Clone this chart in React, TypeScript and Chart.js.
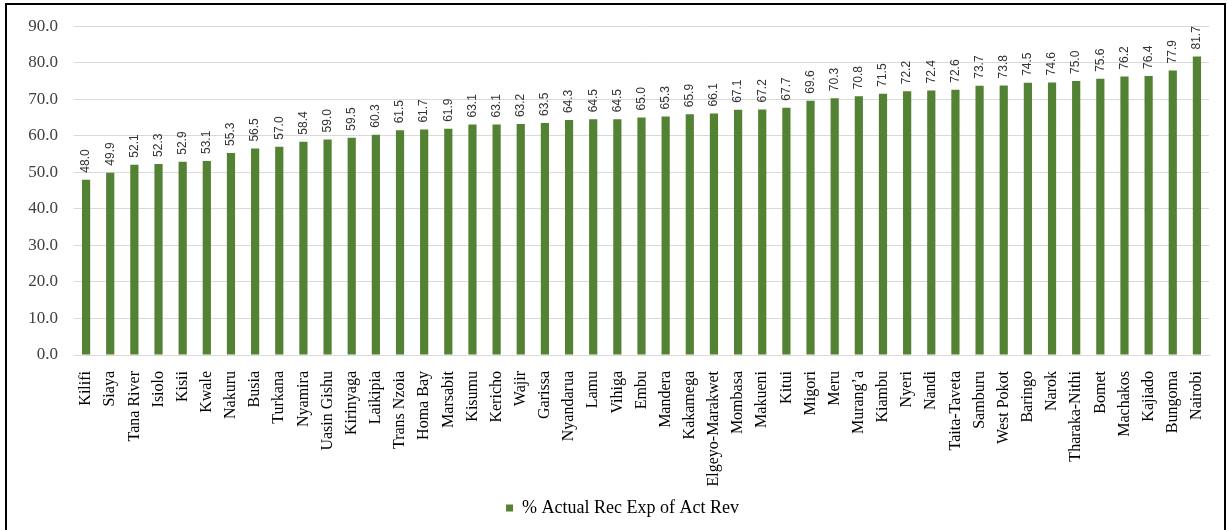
import React, { useEffect, useRef } from "react";
import { Chart, registerables } from "chart.js";

Chart.register(...registerables);

const counties: string[] = [
  "Kilifi", "Siaya", "Tana River", "Isiolo", "Kisii", "Kwale", "Nakuru", "Busia",
  "Turkana", "Nyamira", "Uasin Gishu", "Kirinyaga", "Laikipia", "Trans Nzoia",
  "Homa Bay", "Marsabit", "Kisumu", "Kericho", "Wajir", "Garissa", "Nyandarua",
  "Lamu", "Vihiga", "Embu", "Mandera", "Kakamega", "Elgeyo-Marakwet", "Mombasa",
  "Makueni", "Kitui", "Migori", "Meru", "Murang\u2019a", "Kiambu", "Nyeri", "Nandi",
  "Taita-Taveta", "Samburu", "West Pokot", "Baringo", "Narok", "Tharaka-Nithi",
  "Bomet", "Machakos", "Kajiado", "Bungoma", "Nairobi",
];

const pctActualRecExp: number[] = [
  48.0, 49.9, 52.1, 52.3, 52.9, 53.1, 55.3, 56.5, 57.0, 58.4, 59.0, 59.5, 60.3,
  61.5, 61.7, 61.9, 63.1, 63.1, 63.2, 63.5, 64.3, 64.5, 64.5, 65.0, 65.3, 65.9,
  66.1, 67.1, 67.2, 67.7, 69.6, 70.3, 70.8, 71.5, 72.2, 72.4, 72.6, 73.7, 73.8,
  74.5, 74.6, 75.0, 75.6, 76.2, 76.4, 77.9, 81.7,
];

const seriesLabel = "% Actual Rec Exp of Act Rev";
const yMin = 0;
const yMax = 90;
const yStep = 10;

const SERIF = "'Liberation Serif', 'Times New Roman', serif";
const SANS = "'Liberation Sans', Arial, sans-serif";

const dataLabelPlugin = {
  id: "rotatedDataLabels",
  afterDatasetsDraw(chart: any) {
    const { ctx } = chart;
    chart.data.datasets.forEach((ds: any, di: number) => {
      const meta = chart.getDatasetMeta(di);
      meta.data.forEach((bar: any, i: number) => {
        const v = ds.data[i];
        ctx.save();
        ctx.translate(bar.x, bar.y - 7);
        ctx.rotate(-Math.PI / 2);
        ctx.font = `12px ${SANS}`;
        ctx.fillStyle = "#333333";
        ctx.textAlign = "left";
        ctx.textBaseline = "middle";
        ctx.fillText(Number(v).toFixed(1), 0, 0);
        ctx.restore();
      });
    });
  },
};

export default function App() {
  const canvasRef = useRef<HTMLCanvasElement | null>(null);

  useEffect(() => {
    document.body.style.margin = "0";
    const canvas = canvasRef.current;
    if (!canvas) return;
    const chart = new Chart(canvas, {
      type: "bar",
      data: {
        labels: counties,
        datasets: [
          {
            label: seriesLabel,
            data: pctActualRecExp,
            backgroundColor: "#548235",
            borderWidth: 0,
            barPercentage: 0.34,
            categoryPercentage: 1,
          },
        ],
      },
      options: {
        animation: false,
        responsive: false,
        maintainAspectRatio: false,
        events: [],
        layout: { padding: { left: 17, right: 0, top: 24, bottom: 3 } },
        plugins: {
          tooltip: { enabled: false },
          legend: {
            position: "bottom",
            labels: {
              boxWidth: 7,
              boxHeight: 7,
              padding: 10,
              color: "#000",
              font: { family: SERIF, size: 18 },
            },
          },
        },
        scales: {
          x: {
            grid: { display: false },
            border: { display: true, color: "#d9d9d9", width: 1 },
            ticks: {
              autoSkip: false,
              maxRotation: 90,
              minRotation: 90,
              padding: 8,
              color: "#000",
              font: { family: SERIF, size: 16 },
            },
            afterFit: (s: any) => {
              s.height = 134;
            },
          },
          y: {
            min: yMin,
            max: yMax,
            grid: { color: "#d9d9d9", drawTicks: false },
            border: { display: false },
            ticks: {
              stepSize: yStep,
              padding: 16,
              color: "#404040",
              font: { family: SERIF, size: 17 },
              callback: (v: any) => Number(v).toFixed(1),
            },
            afterFit: (s: any) => {
              s.width = 57;
            },
          },
          y2: {
            type: "linear",
            position: "right",
            grid: { display: false },
            border: { display: false },
            ticks: { display: false },
            afterFit: (s: any) => {
              s.width = 19;
            },
          },
        },
      } as any,
      plugins: [dataLabelPlugin],
    });
    return () => chart.destroy();
  }, []);

  return (
    <div
      style={{
        position: "relative",
        width: 1228,
        height: 530,
        overflow: "hidden",
        background: "#fff",
      }}
    >
      <canvas
        ref={canvasRef}
        width={1228}
        height={530}
        style={{ position: "absolute", left: 0, top: 0, width: 1228, height: 530 }}
      />
      <div
        style={{
          position: "absolute",
          left: 5,
          top: 3,
          width: 1221,
          height: 600,
          border: "2px solid #000",
          boxSizing: "border-box",
          pointerEvents: "none",
        }}
      />
    </div>
  );
}
